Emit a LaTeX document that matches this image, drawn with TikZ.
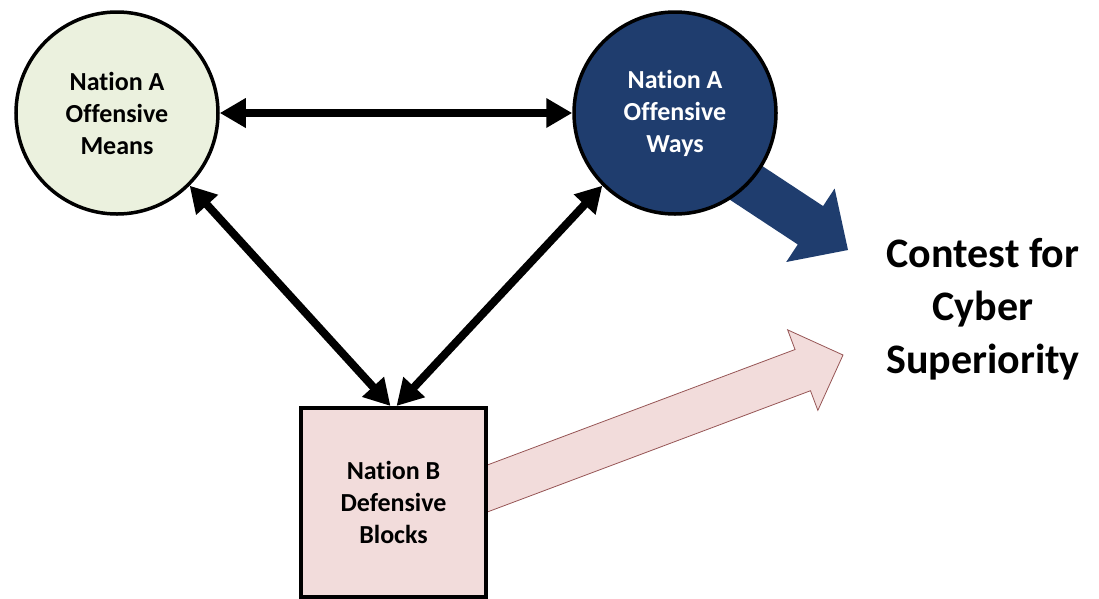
\documentclass[tikz,border=0pt]{standalone}
\usepackage{fontspec}
\setmainfont[Ligatures=NoCommon]{Carlito}
\usetikzlibrary{arrows.meta, calc, backgrounds}

\definecolor{meansgreen}{RGB}{235,241,222}
\definecolor{waysblue}{RGB}{31,61,110}
\definecolor{blockpink}{RGB}{242,220,219}
\definecolor{pinkedge}{RGB}{150,85,85}

\begin{document}
\begin{tikzpicture}[
    x=1pt, y=-1pt,
    every node/.style={font=\bfseries\fontsize{26}{32}\selectfont, align=center},
    nation/.style={draw, circle, line width=3.5pt, minimum size=202pt, inner sep=0pt},
    defense/.style={draw, rectangle, line width=4pt, fill=blockpink, minimum width=185pt, minimum height=189pt},
    link/.style={line width=8pt, {Triangle[length=26pt,width=28pt]}-{Triangle[length=26pt,width=28pt]}}
]
    \useasboundingbox (0,0) rectangle (1099,598);

    % Nations and blocks
    \node[nation, fill=meansgreen] (means) at (117,113) {Nation A\\Offensive\\Means};
    \node[nation, fill=waysblue, text=white] (ways) at (675,113) {Nation A\\Offensive\\Ways};
    \node[defense] (block) at (393.5,502.5) {Nation B\\Defensive\\Blocks};
    \node[font=\bfseries\fontsize{42}{53}\selectfont] (contest) at (983,309) {Contest for\\Cyber\\Superiority};

    % Interactions
    \draw[link] (means) -- (ways);
    \draw[link] (means.-45) -- ([xshift=-3pt]block.north);
    \draw[link] (ways.-135) -- ([xshift=3pt]block.north);

    % Big arrows into the contest
    \begin{scope}[on background layer]
        \coordinate (wtail) at (681,140);
        \coordinate (wtip) at (848,250);
        \coordinate (wbase) at ($(wtip)!45pt!(wtail)$);
        \fill[waysblue] ($(wtail)!23pt!90:(wtip)$) -- ($(wbase)!23pt!90:(wtip)$) -- ($(wbase)!44pt!90:(wtip)$)
            -- (wtip) -- ($(wbase)!44pt!-90:(wtip)$) -- ($(wbase)!23pt!-90:(wtip)$) -- ($(wtail)!23pt!-90:(wtip)$) -- cycle;

        \coordinate (btail) at (470,495);
        \coordinate (btip) at (843,355);
        \coordinate (bbase) at ($(btip)!43pt!(btail)$);
        \filldraw[fill=blockpink, draw=pinkedge, line width=0.8pt] ($(btail)!22pt!90:(btip)$) -- ($(bbase)!22pt!90:(btip)$) -- ($(bbase)!43pt!90:(btip)$)
            -- (btip) -- ($(bbase)!43pt!-90:(btip)$) -- ($(bbase)!22pt!-90:(btip)$) -- ($(btail)!22pt!-90:(btip)$) -- cycle;
    \end{scope}

\end{tikzpicture}
\end{document}
